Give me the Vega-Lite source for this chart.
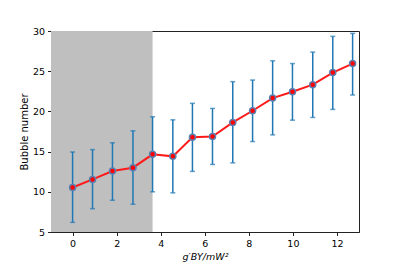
{
  "$schema": "https://vega.github.io/schema/vega-lite/v6.json",
  "width": 308,
  "height": 201,
  "autosize": {"type": "none"},
  "padding": {"left": 51, "top": 31, "right": 40, "bottom": 34},
  "background": "white",
  "config": {
    "font": "DejaVu Sans",
    "view": {"stroke": "#222", "strokeWidth": 1},
    "axis": {
      "grid": false,
      "domainColor": "#222",
      "tickColor": "#222",
      "tickSize": 3.5,
      "labelFontSize": 9.5,
      "labelColor": "#000",
      "titleFontSize": 9.5,
      "titleFontWeight": "normal",
      "titleColor": "#000",
      "labelPadding": 3
    }
  },
  "datasets": {
    "pts": [
      {"x": 0.0, "y": 10.54, "lo": 6.2, "hi": 14.95},
      {"x": 0.905, "y": 11.54, "lo": 7.9, "hi": 15.25},
      {"x": 1.81, "y": 12.58, "lo": 8.95, "hi": 16.1},
      {"x": 2.74, "y": 13.0, "lo": 8.45, "hi": 17.58},
      {"x": 3.63, "y": 14.66, "lo": 10.0, "hi": 19.33},
      {"x": 4.55, "y": 14.41, "lo": 9.87, "hi": 18.95},
      {"x": 5.44, "y": 16.79, "lo": 12.54, "hi": 21.0},
      {"x": 6.35, "y": 16.87, "lo": 13.4, "hi": 20.37},
      {"x": 7.27, "y": 18.63, "lo": 13.6, "hi": 23.7},
      {"x": 8.17, "y": 20.08, "lo": 16.25, "hi": 23.9},
      {"x": 9.08, "y": 21.66, "lo": 17.08, "hi": 26.29},
      {"x": 9.98, "y": 22.45, "lo": 18.91, "hi": 25.95},
      {"x": 10.9, "y": 23.33, "lo": 19.25, "hi": 27.37},
      {"x": 11.81, "y": 24.83, "lo": 20.25, "hi": 29.33},
      {"x": 12.71, "y": 25.95, "lo": 22.04, "hi": 29.7}
    ],
    "shade": [{"x": -0.98, "x2": 3.63, "y": 5, "y2": 30}]
  },
  "layer": [
    {
      "data": {"name": "shade"},
      "mark": {"type": "rect", "color": "#bfbfbf", "clip": true},
      "encoding": {
        "x": {"field": "x", "type": "quantitative",
              "scale": {"domain": [-0.98, 13.0], "nice": false, "zero": false},
              "axis": {"values": [0, 2, 4, 6, 8, 10, 12], "title": "g′BY/mW²", "titleFontStyle": "italic", "titlePadding": 3}},
        "x2": {"field": "x2"},
        "y": {"field": "y", "type": "quantitative",
              "scale": {"domain": [5, 30], "nice": false, "zero": false},
              "axis": {"values": [5, 10, 15, 20, 25, 30], "title": "Bubble number", "titlePadding": 3, "titleFontSize": 10}},
        "y2": {"field": "y2"}
      }
    },
    {
      "data": {"name": "pts"},
      "mark": {"type": "rule", "color": "#1f77b4", "strokeWidth": 1.5},
      "encoding": {
        "x": {"field": "x", "type": "quantitative"},
        "y": {"field": "lo", "type": "quantitative"},
        "y2": {"field": "hi"}
      }
    },
    {
      "data": {"name": "pts"},
      "mark": {"type": "tick", "orient": "horizontal", "color": "#1f77b4", "size": 5, "thickness": 1.5},
      "encoding": {
        "x": {"field": "x", "type": "quantitative"},
        "y": {"field": "lo", "type": "quantitative"}
      }
    },
    {
      "data": {"name": "pts"},
      "mark": {"type": "tick", "orient": "horizontal", "color": "#1f77b4", "size": 5, "thickness": 1.5},
      "encoding": {
        "x": {"field": "x", "type": "quantitative"},
        "y": {"field": "hi", "type": "quantitative"}
      }
    },
    {
      "data": {"name": "pts"},
      "mark": {"type": "line", "color": "#ff1a1a", "strokeWidth": 2},
      "encoding": {
        "x": {"field": "x", "type": "quantitative"},
        "y": {"field": "y", "type": "quantitative"}
      }
    },
    {
      "data": {"name": "pts"},
      "mark": {"type": "point", "shape": "circle", "filled": true, "fill": "#ff0000", "fillOpacity": 1, "stroke": "#5a7fb0", "strokeWidth": 1.5, "size": 36, "opacity": 1},
      "encoding": {
        "x": {"field": "x", "type": "quantitative"},
        "y": {"field": "y", "type": "quantitative"}
      }
    }
  ]
}
